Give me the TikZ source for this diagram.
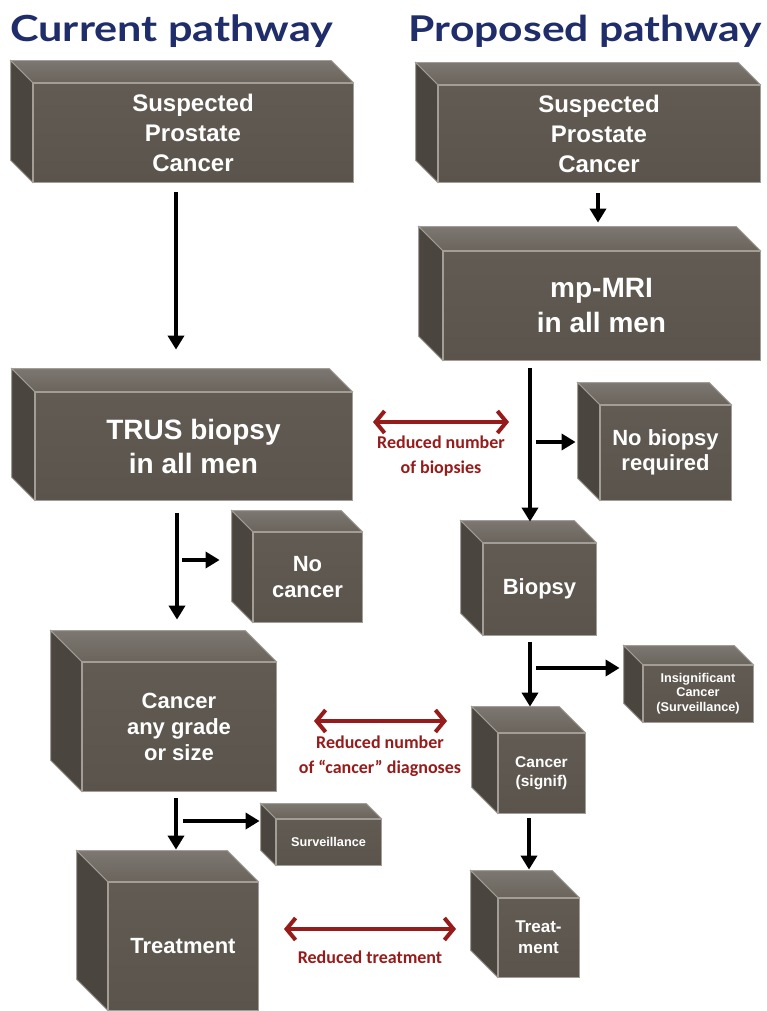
\documentclass[tikz,border=0pt]{standalone}
\usepackage{fontspec}
\setmainfont{Liberation Sans}
\newfontfamily\titlefont[FakeStretch=1.2]{Lato}
\newfontfamily\notefont{Carlito}
\usetikzlibrary{arrows.meta}
\definecolor{boxfront}{HTML}{5B544C}
\definecolor{boxfrontlt}{HTML}{625B53}
\definecolor{boxtop}{HTML}{7C7771}
\definecolor{boxtopdk}{HTML}{6A645C}
\definecolor{boxleft}{HTML}{4A453F}
\definecolor{boxedge}{HTML}{A29D97}
\definecolor{navy}{HTML}{1F2D6B}
\definecolor{darkred}{HTML}{961C1C}
\tikzset{cube/.style = {top color=boxfrontlt, bottom color=boxfront, draw=boxedge,
                        line width=0.8pt, text=white, align=center, inner sep=0pt},
         fsize/.style n args = {2}{font=\bfseries\fontsize{#1}{#2}\selectfont},
         flow/.style = {line width=3.6pt, -{Triangle[length=14pt,width=16pt]}},
         compare/.style = {darkred, line width=4pt,
                           {Straight Barb[length=9pt,width=22pt]}-{Straight Barb[length=9pt,width=22pt]}},
         note/.style = {text=darkred, align=center,
                        font=\notefont\bfseries\fontsize{18}{25}\selectfont},
         title/.style = {text=navy, inner sep=0pt,
                         font=\titlefont\bfseries\fontsize{36}{40}\selectfont}}
% top and left faces of a box, #2 = depth
\newcommand{\cubefaces}[2]{%
  \draw[draw=boxedge, line width=0.8pt, top color=boxtop, bottom color=boxtopdk]
    (#1.north west) -- ++(-#2,-#2) -- ([shift={(-#2,-#2)}]#1.north east) -- (#1.north east) -- cycle;
  \draw[draw=boxedge, line width=0.8pt, fill=boxleft]
    (#1.north west) -- ++(-#2,-#2) -- ([shift={(-#2,-#2)}]#1.south west) -- (#1.south west) -- cycle;}

\begin{document}
\begin{tikzpicture}[x=1pt, y=-1pt]
  \useasboundingbox[fill=white] (0,0) rectangle (766,1011);

  % titles
  \node[title, anchor=base west] (curT) at (10,42) {Current pathway};
  \node[title, anchor=base east, font=\titlefont\bfseries\fontsize{35.5}{40}\selectfont] (propT)
    at (762,42) {Proposed pathway};

  % current pathway
  \node[cube, fsize={24}{30}, minimum width=320pt, minimum height=99pt] (susL) at (193,132.5)
    {Suspected\\Prostate\\Cancer};
  \cubefaces{susL}{22}
  \node[cube, fsize={28}{34}, minimum width=317pt, minimum height=108pt] (trus) at (193.5,446)
    {TRUS biopsy\\in all men};
  \cubefaces{trus}{23}
  \node[cube, fsize={22}{26}, minimum width=109pt, minimum height=90pt] (nocan) at (307.5,577)
    {No\\cancer};
  \cubefaces{nocan}{21}
  \node[cube, fsize={22}{26}, minimum width=194pt, minimum height=129pt] (canany) at (179,726.5)
    {Cancer\\any grade\\or size};
  \cubefaces{canany}{31}
  \node[cube, fsize={12.7}{15}, minimum width=105pt, minimum height=46pt] (surv) at (328.5,842)
    {Surveillance};
  \cubefaces{surv}{15}
  \node[cube, fsize={22}{26}, minimum width=150pt, minimum height=128pt] (treatL) at (183,946)
    {Treatment};
  \cubefaces{treatL}{31}

  % proposed pathway
  \node[cube, fsize={24}{30}, minimum width=322pt, minimum height=97pt] (susR) at (599,133.5)
    {Suspected\\Prostate\\Cancer};
  \cubefaces{susR}{22}
  \node[cube, fsize={28}{35}, minimum width=317pt, minimum height=109pt] (mri) at (601.5,305.5)
    {mp-MRI\\in all men};
  \cubefaces{mri}{24}
  \node[cube, fsize={22}{25}, minimum width=131pt, minimum height=95pt] (nobiop) at (665.5,452.5)
    {No biopsy\\required};
  \cubefaces{nobiop}{22}
  \node[cube, fsize={22}{26}, minimum width=113pt, minimum height=92pt] (biopsy) at (539.5,589)
    {Biopsy};
  \cubefaces{biopsy}{22}
  \node[cube, fsize={12.7}{14.5}, minimum width=110pt, minimum height=57pt] (insig) at (698,693.5)
    {Insignificant\\Cancer\\(Surveillance)};
  \cubefaces{insig}{19}
  \node[cube, fsize={15.5}{19}, minimum width=87pt, minimum height=80pt] (cansig) at (541.5,773)
    {Cancer\\(signif)};
  \cubefaces{cansig}{26}
  \node[cube, fsize={17}{21}, minimum width=81pt, minimum height=79pt] (treatR) at (538.5,937.5)
    {Treat-\\ment};
  \cubefaces{treatR}{27}

  % black arrows
  \draw[flow] ([xshift=-17,yshift=-10]susL.south) -- ([xshift=-17.5,yshift=42]trus.north);
  \draw[flow] ([xshift=-16.5,yshift=-13]trus.south) -- ([xshift=-2,yshift=42]canany.north);
  \draw[flow] ([xshift=-3,yshift=-7]canany.south) -- ([xshift=-7,yshift=32]treatL.north);
  \coordinate (jL1) at (182,560);
  \coordinate (jL2) at (183,821);
  \draw[flow] (jL1) -- ([xshift=-33,yshift=17]nocan.west);
  \draw[flow] (jL2) -- ([xshift=-16,yshift=21]surv.west);

  \draw[flow] ([xshift=-1,yshift=-11]susR.south) -- ([xshift=-3.5,yshift=28]mri.north);
  \draw[flow] ([xshift=-71.5,yshift=-8]mri.south) -- ([xshift=-9.5,yshift=21]biopsy.north);
  \draw[flow] ([xshift=-9.5,yshift=-7]biopsy.south) -- ([xshift=-11.5,yshift=26]cansig.north);
  \draw[flow] ([xshift=-12.5,yshift=-5]cansig.south) -- ([xshift=-9.5,yshift=28]treatR.north);
  \coordinate (jR1) at (536,442);
  \coordinate (jR2) at (536,668);
  \draw[flow] (jR1) -- ([xshift=-24,yshift=10.5]nobiop.west);
  \draw[flow] (jR2) -- ([xshift=-23,yshift=25.5]insig.west);

  % comparisons
  \coordinate (c1a) at (373,422);
  \coordinate (c1b) at (509,422);
  \draw[compare] (c1a) -- (c1b);
  \node[note] (n1) at (441,456) {Reduced number\\of biopsies};
  \coordinate (c2a) at (314,721);
  \coordinate (c2b) at (447,721);
  \draw[compare] (c2a) -- (c2b);
  \node[note] (n2) at (380,756) {Reduced number\\of “cancer” diagnoses};
  \coordinate (c3a) at (284,929);
  \coordinate (c3b) at (456,929);
  \draw[compare] (c3a) -- (c3b);
  \node[note] (n3) at (370,957) {Reduced treatment};
\end{tikzpicture}
\end{document}
